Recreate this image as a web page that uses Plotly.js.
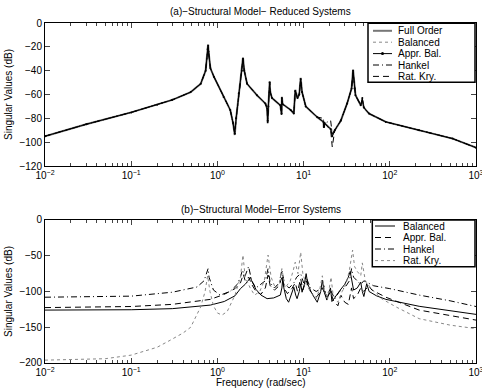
<!DOCTYPE html>
<html><head><meta charset="utf-8">
<script src="https://cdn.plot.ly/plotly-3.0.1.min.js"></script>
<style>body{margin:0;background:#fff}#c{width:482px;height:391px}</style>
</head><body><div id="c"></div>
<script>
// ---------- (a) reduced systems ----------
const topFreq = [0.01,0.03,0.1,0.2,0.3,0.49,0.64,0.73,0.77,0.78,0.79,0.83,0.91,1.18,1.41,1.52,1.59,1.65,1.77,1.92,1.98,2.05,2.21,2.88,3.6,3.78,3.83,3.9,4.04,4.1,4.3,5.37,5.55,5.6,5.7,7.08,7.7,8.0,8.5,8.9,9.25,9.6,10.6,14.4,17,17.2,17.5,20.6,21.5,23,27,32,36,37.5,39,40,46,48,50,57.5,90,219,535,1000];
const fullOrderDb = [-95,-85,-75,-68.5,-64.5,-58,-51,-40,-22,-18,-24,-38,-45,-62,-73,-84,-94,-80,-59,-40,-29,-40,-51,-60.6,-67.5,-72,-84,-70,-49,-58,-63,-69,-77,-62,-68,-73,-76,-56,-63,-60,-46,-58,-70,-79,-83,-88,-84,-89,-94,-90,-82,-67.5,-55,-39,-55,-60.6,-69,-65,-71,-76,-83,-90,-97,-104.6];
const balancedDb = [-95,-85,-75,-68.5,-64.5,-58,-51,-40,-23,-19,-25,-38,-45,-62,-73,-84,-93,-80,-59,-40,-30,-40,-51,-60.6,-67.5,-72,-83,-70,-50,-58,-63,-69,-76,-63,-68,-73,-76,-57,-63,-60,-47,-58,-70,-79,-83,-87,-84,-89,-95,-90,-82,-67.5,-55,-40,-55,-60.6,-69,-66,-71,-76,-83,-90,-97,-104.6];
const apprBalDb = [-95,-85,-75,-68.5,-64.5,-58,-51,-40,-22,-19,-24,-38,-45,-62,-73,-84,-93,-80,-59,-40,-30,-40,-51,-60.6,-67.5,-72,-82,-70,-50,-58,-63,-69,-76,-63,-68,-73,-76,-57,-63,-60,-47,-58,-70,-79,-83,-87,-84,-89,-95,-90,-82,-67.5,-55,-40,-55,-60.6,-69,-63,-71,-76,-83,-90,-97,-104.6];
const hankelDb = [-95,-85,-75,-68.5,-64.5,-58,-51,-40,-24,-20,-25,-38,-45,-62,-73,-84,-92,-80,-59,-40,-31,-40,-51,-60.6,-67.5,-72,-82,-70,-51,-58,-63,-69,-75,-64,-68,-73,-75,-58,-63,-60,-48,-58,-70,-79,-80,-87,-84,-82,-93,-90,-82,-67.5,-55,-42,-55,-60.6,-69,-64,-71,-76,-83,-90,-97,-104.6];
const ratKryDb = [-95,-85,-75,-68.5,-64.5,-58,-51,-40,-23,-20,-25,-38,-45,-62,-73,-84,-93,-80,-59,-40,-30,-40,-51,-60.6,-67.5,-72,-84,-70,-50,-58,-63,-69,-77,-63,-68,-73,-76,-57,-63,-60,-47,-58,-70,-79,-83,-88,-84,-90,-104,-90,-82,-67.5,-55,-41,-55,-60.6,-69,-65,-71,-76,-83,-90,-97,-104.6];

// ---------- (b) error systems ----------
const errBalFreq = [0.01,0.1,0.3,0.5,0.83,1.2,1.6,1.85,2.1,2.3,2.41,2.5,2.8,3.2,3.77,4.5,5.37,5.6,5.75,5.9,6.3,6.7,7.2,7.7,8.1,8.4,8.9,9.25,9.6,10.2,10.7,11.2,12.5,14.4,15.8,16.5,17.3,18.6,19.8,20.5,21.3,23,26.6,30,33,34.7,36,38,42,46,48,50,54,57.5,70,90,219,500,1000];
const errBalDb = [-126,-125.5,-124,-122,-119,-114,-106,-96,-90,-84,-80,-85,-97,-105,-110,-109,-105,-95,-80,-95,-110,-115,-105,-94,-105,-110,-100,-89,-101,-90,-75,-90,-103,-115,-100,-84,-100,-112,-100,-95,-114,-108,-98,-90,-80,-72,-85,-98,-95,-87,-100,-107,-89,-100,-106,-111,-120.7,-127,-132];
const errApprFreq = [0.01,0.1,0.3,0.5,0.83,1.2,1.6,1.85,2.0,2.1,2.3,2.5,2.8,3.2,3.6,3.87,4.1,4.6,5.2,5.6,5.9,6.5,7.3,8.0,8.5,9.25,9.8,10.7,12,14,16,17.2,18.5,20.6,22,25,27,30,33,36,38,42,46,50,57,62,90,219,500,1000];
const errApprDb = [-122.5,-121,-118,-115,-111,-104,-96,-88,-76,-85,-80,-90,-100,-104,-95,-77,-92,-98,-92,-80,-95,-103,-96,-88,-100,-82,-98,-85,-100,-108,-100,-92,-110,-100,-112,-120,-105,-115,-118,-95,-110,-105,-95,-100,-92,-98,-108,-126,-134,-140];
const errHankFreq = [0.01,0.1,0.3,0.58,0.7,0.76,0.78,0.8,0.9,1.08,1.4,1.7,1.85,1.95,2.1,2.3,2.5,2.8,3.2,3.6,3.87,4.1,4.6,5.2,5.6,6.0,6.8,7.7,8.3,9.25,10,10.7,12,14,16.5,18,20.5,23,26,30,34,36,38,42,46,50,57,65,100,219,500,1000];
const errHankDb = [-108,-106.5,-101,-93.7,-85,-70,-68,-80,-98,-105,-100,-90,-80,-70,-78,-65,-85,-95,-90,-85,-68,-88,-95,-88,-70,-90,-95,-88,-80,-75,-88,-80,-95,-100,-95,-105,-98,-110,-100,-95,-85,-68,-80,-85,-90,-85,-88,-92,-96,-105,-113,-121];
const errKryFreq = [0.01,0.05,0.1,0.2,0.285,0.4,0.49,0.64,0.72,0.77,0.82,0.9,1.0,1.13,1.3,1.6,1.85,1.98,2.1,2.4,2.7,3.1,3.5,3.87,4.2,4.7,5.2,5.6,6.1,7.0,7.6,8.0,8.6,9.25,9.8,10.7,12,14,15.5,16.5,17.5,19,20.8,22,25,28,31,34,37,39,42,46,48,52,60,80,120,219,500,1000];
const errKryDb = [-196,-194,-189,-178,-168,-158,-150,-121.5,-100,-78,-100,-120,-130,-133,-128,-105,-80,-49,-80,-95,-105,-100,-85,-49,-80,-95,-90,-68,-95,-85,-70,-59,-75,-45,-75,-90,-100,-110,-95,-78,-100,-110,-80,-105,-115,-100,-90,-70,-42,-65,-72,-78,-60,-85,-95,-110,-122,-138,-147,-152];

const xTickVals = [0.01,0.1,1,10,100,1000];
const xTickText = ['10<sup>−2</sup>','10<sup>−1</sup>','10<sup>0</sup>','10<sup>1</sup>','10<sup>2</sup>','10<sup>3</sup>'];
const topLegendNames = ['Full Order','Balanced','Appr. Bal.','Hankel','Rat. Kry.'];
const botLegendNames = ['Balanced','Appr. Bal.','Hankel','Rat. Kry.'];

const BLK = '#000', GRY = '#777', LGRY = '#888';
const DASH = '6px,4px', DASHDOT = '6px,3px,1px,3px';
const topStyles = [
  {color: GRY, width: 2},
  {color: LGRY, width: 1, dash: 'dot'},
  {color: BLK, width: 1},
  {color: BLK, width: 1, dash: DASHDOT},
  {color: BLK, width: 1, dash: DASH}
];
const botStyles = [
  {color: BLK, width: 1},
  {color: BLK, width: 1, dash: DASH},
  {color: BLK, width: 1, dash: DASHDOT},
  {color: LGRY, width: 1, dash: 'dot'}
];
const topY = [fullOrderDb, balancedDb, apprBalDb, hankelDb, ratKryDb];
const traces = [];
topY.forEach((yy, i) => {
  const t = {x: topFreq, y: yy, name: topLegendNames[i], mode: 'lines', line: topStyles[i], xaxis: 'x', yaxis: 'y', showlegend: false};
  if (i === 2) { t.mode = 'lines+markers'; t.marker = {size: 2, color: BLK}; }
  traces.push(t);
});
const botX = [errBalFreq, errApprFreq, errHankFreq, errKryFreq];
const botY = [errBalDb, errApprDb, errHankDb, errKryDb];
botY.forEach((yy, i) => {
  traces.push({x: botX[i], y: yy, name: botLegendNames[i], mode: 'lines', line: botStyles[i], xaxis: 'x2', yaxis: 'y2', showlegend: false});
});

const F = {family: 'Liberation Sans, Arial, sans-serif', size: 10, color: '#000'};
const minorVals = [];
[0.01,0.1,1,10,100].forEach(d => { for (let k = 2; k <= 9; k++) minorVals.push(d * k); });
function xax(extra) {
  return Object.assign({type: 'log', range: [-2, 3], tickvals: xTickVals, ticktext: xTickText,
    ticks: 'inside', ticklen: 5, mirror: 'ticks', showline: true, linecolor: '#000', linewidth: 1,
    showgrid: false, zeroline: false, tickfont: F, ticklabeloverflow: 'allow',
    minor: {ticks: 'inside', ticklen: 3, tickvals: minorVals, showgrid: false}}, extra);
}
function yax(extra) {
  return Object.assign({ticks: 'inside', ticklen: 5, mirror: 'ticks', showline: true, linecolor: '#000', linewidth: 1,
    showgrid: false, zeroline: false, tickfont: F,
    title: {text: 'Singular Values (dB)', font: F, standoff: 4}}, extra);
}

// manual legends (paper coords computed from pixel layout: plot x 45..476, y 23..363)
const PW = 431, PH = 340;
const px = v => (v - 45) / PW;
const py = v => 1 - (v - 23) / PH;
const shapes = [], annotations = [];
function legendBox(x0, x1, y0, y1, names, styles, rows, sx0, sx1, tx, markerIdx) {
  shapes.push({type: 'rect', xref: 'paper', yref: 'paper', x0: px(x0), x1: px(x1), y0: py(y1), y1: py(y0),
    line: {color: '#000', width: 1.5}, fillcolor: '#fff', layer: 'above'});
  names.forEach((n, i) => {
    const s = styles[i];
    shapes.push({type: 'line', xref: 'paper', yref: 'paper', x0: px(sx0), x1: px(sx1), y0: py(rows[i]), y1: py(rows[i]),
      line: {color: s.color, width: s.width, dash: s.dash || 'solid'}, layer: 'above'});
    if (i === markerIdx) {
      shapes.push({type: 'circle', xref: 'paper', yref: 'paper', xsizemode: 'pixel', ysizemode: 'pixel',
        xanchor: px((sx0 + sx1) / 2), yanchor: py(rows[i]), x0: -1.5, x1: 1.5, y0: -1.5, y1: 1.5,
        fillcolor: '#000', line: {color: '#000', width: 0}, layer: 'above'});
    }
    annotations.push({text: n, xref: 'paper', yref: 'paper', x: px(tx), y: py(rows[i]), xanchor: 'left', yanchor: 'middle',
      showarrow: false, font: F});
  });
}
legendBox(368, 475, 23.3, 82.3, topLegendNames, topStyles, [30.8, 42.2, 53.6, 65.0, 76.4], 373, 392, 396, 2);
legendBox(372.3, 475, 220, 266.7, botLegendNames, botStyles, [226.0, 237.5, 249.0, 260.6], 375, 395, 401, -1);

annotations.push({text: '(a)−Structural Model− Reduced Systems', xref: 'paper', yref: 'paper', x: 0.5, y: py(12), showarrow: false, font: F, xanchor: 'center', yanchor: 'middle'});
annotations.push({text: '(b)−Structural Model−Error Systems', xref: 'paper', yref: 'paper', x: 0.5, y: py(209), showarrow: false, font: F, xanchor: 'center', yanchor: 'middle'});
annotations.push({text: 'Frequency (rad/sec)', xref: 'paper', yref: 'paper', x: 0.5, y: py(382.5), showarrow: false, font: F, xanchor: 'center', yanchor: 'middle'});

const layout = {
  width: 482, height: 391,
  margin: {l: 45, r: 6, t: 23, b: 28},
  paper_bgcolor: '#fff', plot_bgcolor: '#fff',
  font: F,
  showlegend: false,
  xaxis: xax({domain: [0, 1], anchor: 'y'}),
  yaxis: yax({domain: [0.5794, 1], range: [-120, 0], dtick: 20, anchor: 'x'}),
  xaxis2: xax({domain: [0, 1], anchor: 'y2'}),
  yaxis2: yax({domain: [0, 0.4206], range: [-200, 0], dtick: 50, anchor: 'x2'}),
  shapes: shapes,
  annotations: annotations
};
Plotly.newPlot('c', traces, layout, {displayModeBar: false, staticPlot: true});
</script>
</body></html>
